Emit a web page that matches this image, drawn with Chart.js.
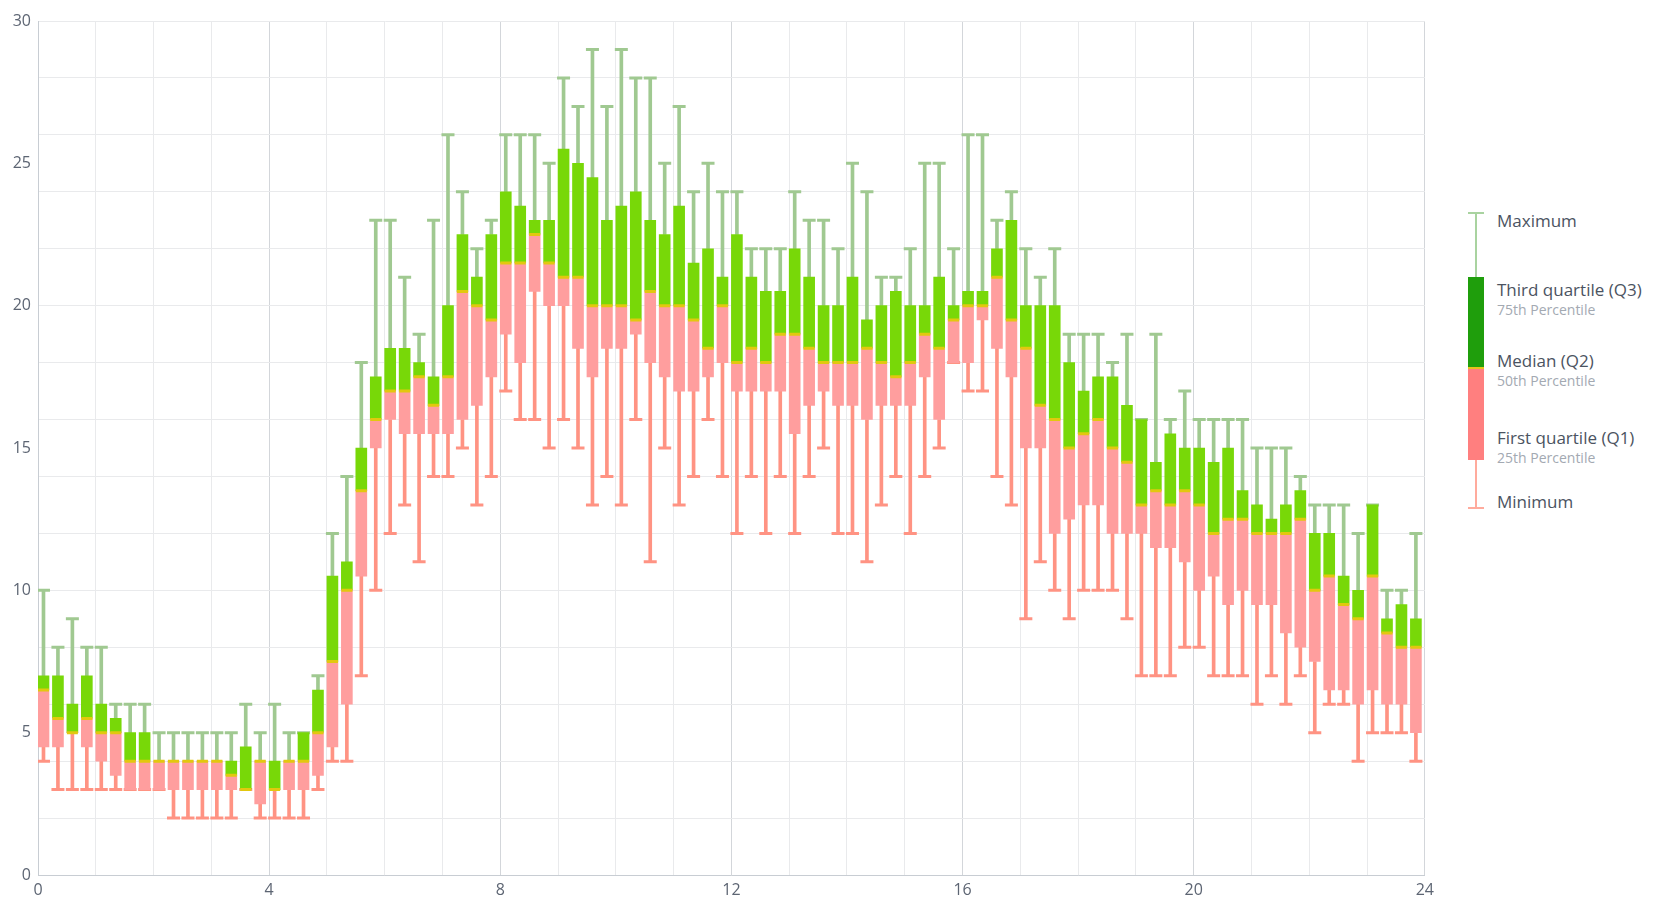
<!DOCTYPE html>
<html>
<head>
<meta charset="utf-8">
<script src="https://cdn.jsdelivr.net/npm/chart.js@4.4.1/dist/chart.umd.min.js"></script>
<style>
    html, body { margin: 0; padding: 0; background: #fff; }
    body { width: 1657px; height: 900px; position: relative; overflow: hidden; font-family: "Open Sans", "Noto Sans", sans-serif; }
    #chartBox { position: absolute; left: 0; top: 0; width: 1440px; height: 900px; }
    .sym { position: absolute; }
    .lbl { position: absolute; left: 1497px; font-size: 17px; line-height: 20px; color: #4b5361; white-space: nowrap; }
    .sub { position: absolute; left: 1497px; font-size: 14px; line-height: 16px; color: #a3a9b2; white-space: nowrap; }
</style>
</head>
<body>
<div id="chartBox"><canvas id="boxChart"></canvas></div>

<!-- legend -->
<div class="sym" style="left:1468px;top:212px;width:16px;height:1.5px;background:#a9d3a0"></div>
<div class="sym" style="left:1475px;top:213px;width:1.5px;height:64px;background:#a9d3a0"></div>
<div class="sym" style="left:1468px;top:277px;width:16px;height:91px;background:#1f9e0c"></div>
<div class="sym" style="left:1468px;top:367px;width:16px;height:2px;background:#e6c31c"></div>
<div class="sym" style="left:1468px;top:369px;width:16px;height:91px;background:#ff7f7f"></div>
<div class="sym" style="left:1475px;top:460px;width:1.5px;height:48px;background:#ffab9d"></div>
<div class="sym" style="left:1468px;top:507px;width:16px;height:1.5px;background:#ffab9d"></div>

<div class="lbl" style="top:211px">Maximum</div>
<div class="lbl" style="top:280px">Third quartile (Q3)</div>
<div class="sub" style="top:302px">75th Percentile</div>
<div class="lbl" style="top:351px">Median (Q2)</div>
<div class="sub" style="top:373px">50th Percentile</div>
<div class="lbl" style="top:428px">First quartile (Q1)</div>
<div class="sub" style="top:450px">25th Percentile</div>
<div class="lbl" style="top:492px">Minimum</div>

<script>
// one box per quarter hour, 96 boxes over the day
const minVals = [
    4, 3, 3, 3, 3, 3, 3, 3, 3, 2,
    2, 2, 2, 2, 3, 2, 2, 2, 2, 3,
    4, 4, 7, 10, 12, 13, 11, 14, 14, 15,
    13, 14, 17, 16, 16, 15, 16, 15, 13, 14,
    13, 16, 11, 15, 13, 14, 16, 14, 12, 14,
    12, 14, 12, 14, 15, 12, 12, 11, 13, 14,
    12, 14, 15, 18, 17, 17, 14, 13, 9, 11,
    10, 9, 10, 10, 10, 9, 7, 7, 7, 8,
    8, 7, 7, 7, 6, 7, 6, 7, 5, 6,
    6, 4, 5, 5, 5, 4
];
const q1Vals = [
    4.5, 4.5, 5, 4.5, 4, 3.5, 3, 3, 3, 3,
    3, 3, 3, 3, 3, 2.5, 3, 3, 3, 3.5,
    4.5, 6, 10.5, 15, 16, 15.5, 15.5, 15.5, 15.5, 16,
    16.5, 17.5, 19, 18, 20.5, 20, 20, 18.5, 17.5, 18.5,
    18.5, 19, 18, 17.5, 17, 17, 17.5, 18, 17, 17,
    17, 17, 15.5, 16.5, 17, 16.5, 16.5, 16, 16.5, 16.5,
    16.5, 17.5, 16, 18, 18, 19.5, 18.5, 17.5, 15, 15,
    12, 12.5, 13, 13, 12, 12, 12, 11.5, 11.5, 11,
    10, 10.5, 9.5, 10, 9.5, 9.5, 8.5, 8, 7.5, 6.5,
    6.5, 6, 6.5, 6, 6, 5
];
const medianVals = [
    6.5, 5.5, 5, 5.5, 5, 5, 4, 4, 4, 4,
    4, 4, 4, 3.5, 3, 4, 3, 4, 4, 5,
    7.5, 10, 13.5, 16, 17, 17, 17.5, 16.5, 17.5, 20.5,
    20, 19.5, 21.5, 21.5, 22.5, 21.5, 21, 21, 20, 20,
    20, 19.5, 20.5, 20, 20, 19.5, 18.5, 20, 18, 18.5,
    18, 19, 19, 18.5, 18, 18, 18, 18.5, 18, 17.5,
    18, 19, 18.5, 19.5, 20, 20, 21, 19.5, 18.5, 16.5,
    16, 15, 15.5, 16, 15, 14.5, 13, 13.5, 13, 13.5,
    13, 12, 12.5, 12.5, 12, 12, 12, 12.5, 10, 10.5,
    9.5, 9, 10.5, 8.5, 8, 8
];
const q3Vals = [
    7, 7, 6, 7, 6, 5.5, 5, 5, 4, 4,
    4, 4, 4, 4, 4.5, 4, 4, 4, 5, 6.5,
    10.5, 11, 15, 17.5, 18.5, 18.5, 18, 17.5, 20, 22.5,
    21, 22.5, 24, 23.5, 23, 23, 25.5, 25, 24.5, 23,
    23.5, 24, 23, 22.5, 23.5, 21.5, 22, 21, 22.5, 21,
    20.5, 20.5, 22, 21, 20, 20, 21, 19.5, 20, 20.5,
    20, 20, 21, 20, 20.5, 20.5, 22, 23, 20, 20,
    20, 18, 17, 17.5, 17.5, 16.5, 16, 14.5, 15.5, 15,
    15, 14.5, 15, 13.5, 13, 12.5, 13, 13.5, 12, 12,
    10.5, 10, 13, 9, 9.5, 9
];
const maxVals = [
    10, 8, 9, 8, 8, 6, 6, 6, 5, 5,
    5, 5, 5, 5, 6, 5, 6, 5, 5, 7,
    12, 14, 18, 23, 23, 21, 19, 23, 26, 24,
    22, 23, 26, 26, 26, 25, 28, 27, 29, 27,
    29, 28, 28, 25, 27, 24, 25, 24, 24, 22,
    22, 22, 24, 23, 23, 22, 25, 24, 21, 21,
    22, 25, 25, 22, 26, 26, 23, 24, 22, 21,
    22, 19, 19, 19, 18, 19, 16, 19, 16, 17,
    16, 16, 16, 16, 15, 15, 15, 14, 13, 13,
    13, 12, 13, 10, 10, 12
];

const FONT = '"Open Sans", "Noto Sans", sans-serif';
const hours = minVals.map((_, i) => i / 4);
// the box sits at the left of its quarter-hour slot
const xs = hours.map(h => h + 0.095);
const ranges = (lo, hi) => xs.map((x, i) => ({ x: x, y: [lo[i], hi[i]] }));
const points = vals => xs.map((x, i) => ({ x: x, y: vals[i] }));

const ctx = document.getElementById('boxChart');
new Chart(ctx, {
    type: 'bar',
    data: {
        datasets: [
            { label: 'Upper whisker', data: ranges(q3Vals, maxVals), backgroundColor: '#a0c991', barThickness: 3, grouped: false, order: 6 },
            { label: 'Lower whisker', data: ranges(minVals, q1Vals), backgroundColor: '#ff9383', barThickness: 3, grouped: false, order: 6 },
            { type: 'scatter', label: 'Maximum', data: points(maxVals), pointStyle: 'line', pointRadius: 6.5, pointBorderWidth: 3, pointBorderColor: '#a0c991', order: 5 },
            { type: 'scatter', label: 'Minimum', data: points(minVals), pointStyle: 'line', pointRadius: 6.5, pointBorderWidth: 3, pointBorderColor: '#ff9383', order: 5 },
            { label: 'Q1-Q2', data: ranges(q1Vals, medianVals), backgroundColor: '#ff9e9e', barThickness: 11, grouped: false, order: 3 },
            { label: 'Q2-Q3', data: ranges(medianVals, q3Vals), backgroundColor: '#78d808', barThickness: 11, grouped: false, order: 3 },
            { type: 'scatter', label: 'Median', data: points(medianVals), pointStyle: 'line', pointRadius: 5.5, pointBorderWidth: 3, pointBorderColor: '#e2c80e', order: 1 }
        ]
    },
    options: {
        responsive: true,
        maintainAspectRatio: false,
        animation: false,
        layout: { padding: { top: 21, right: 15, left: 0, bottom: 0 } },
        plugins: {
            legend: { display: false },
            tooltip: { enabled: false }
        },
        scales: {
            x: {
                type: 'linear',
                min: 0,
                max: 24,
                offset: false,
                grid: {
                    offset: false,
                    drawTicks: false,
                    color: c => (c.tick && c.tick.value % 4 === 0) ? '#d3d6da' : '#e9eaec'
                },
                border: { color: '#c8cdd3' },
                ticks: {
                    stepSize: 1,
                    autoSkip: false,
                    maxRotation: 0,
                    padding: 6,
                    color: '#5d6573',
                    font: { family: FONT, size: 16 },
                    callback: v => v % 4 === 0 ? v : ''
                },
                afterFit: s => { s.height = 25; }
            },
            y: {
                min: 0,
                max: 30,
                grid: {
                    drawTicks: false,
                    color: c => (c.tick && c.tick.value % 2 === 0) ? '#e9eaec' : 'rgba(0,0,0,0)'
                },
                border: { color: '#c8cdd3' },
                ticks: {
                    stepSize: 1,
                    autoSkip: false,
                    padding: 7,
                    color: '#5d6573',
                    font: { family: FONT, size: 16 },
                    callback: v => v % 5 === 0 ? v : ''
                },
                afterFit: s => { s.width = 38; }
            }
        }
    }
});
</script>
</body>
</html>
